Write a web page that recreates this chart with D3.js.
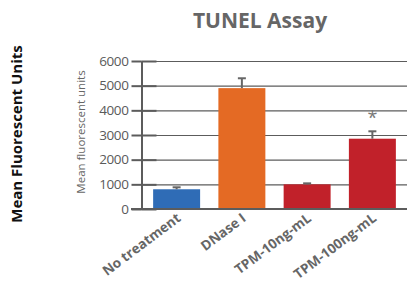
<!DOCTYPE html>
<html>
<head>
<meta charset="utf-8">
<script src="https://cdn.jsdelivr.net/npm/d3@7"></script>
<style>
  body { margin: 0; background: #fff; }
  svg { display: block; font-family: "Open Sans", sans-serif; }
</style>
</head>
<body>
<svg width="407" height="287"></svg>
<script>
var categories = ["No treatment", "DNase I", "TPM-10ng-mL", "TPM-100ng-mL"];
var means = [800, 4900, 1000, 2850];
var errors = [80, 400, 40, 300];
var barColors = ["#2f6cb6", "#e46a24", "#c1212a", "#c1212a"];
var tickValues = [0, 1000, 2000, 3000, 4000, 5000, 6000];
var starred = ["TPM-100ng-mL"];

var svg = d3.select('svg');

var axisX = 141.5;
var scaleX = d3.scaleBand().domain(categories).range([144, 405]).paddingInner(0.28).paddingOuter(0.14);
var scaleY = d3.scaleLinear().domain([0, 6000]).range([209, 61]);

// grid lines to the right edge
svg.append('g')
  .attr('transform', 'translate(' + axisX + ',0)')
  .call(d3.axisRight(scaleY).tickValues(tickValues).tickSize(407 - axisX).tickFormat(''))
  .call(function(g){
    g.select('.domain').remove();
    g.selectAll('line').attr('stroke', '#5c5c5c').attr('stroke-width', 1.1);
  });

// short inner ticks
svg.append('g')
  .attr('transform', 'translate(' + axisX + ',0)')
  .call(d3.axisRight(scaleY).tickValues(tickValues).tickSize(15).tickFormat(''))
  .call(function(g){
    g.select('.domain').remove();
    g.selectAll('line').attr('stroke', '#5c5c5c').attr('stroke-width', 2);
  });

// left axis with labels
svg.append('g')
  .attr('transform', 'translate(' + axisX + ',0)')
  .call(d3.axisLeft(scaleY).tickValues(tickValues).tickSize(10).tickSizeOuter(0).tickPadding(3).tickFormat(d3.format('d')))
  .call(function(g){
    g.select('.domain').attr('stroke', '#5c5c5c').attr('stroke-width', 2);
    g.selectAll('line').attr('stroke', '#5c5c5c').attr('stroke-width', 2);
    g.selectAll('text').attr('fill', '#5a5a5a').attr('font-size', 13.5)
      .attr('font-family', '"Open Sans", sans-serif').attr('letter-spacing', -0.4);
  });

// baseline
svg.append('line')
  .attr('x1', 131).attr('x2', 407)
  .attr('y1', scaleY(0)).attr('y2', scaleY(0))
  .attr('stroke', '#5c5c5c').attr('stroke-width', 2);

// bars
svg.selectAll('.bar')
  .data(categories)
  .enter()
  .append('rect')
  .attr('class', 'bar')
  .attr('x', function(d){ return scaleX(d); })
  .attr('width', scaleX.bandwidth())
  .attr('y', function(d, i){ return scaleY(means[i]); })
  .attr('height', function(d, i){ return scaleY(0) - scaleY(means[i]) - 1; })
  .attr('fill', function(d, i){ return barColors[i]; });

// error bars
var err = svg.selectAll('.err')
  .data(categories)
  .enter()
  .append('g')
  .attr('class', 'err')
  .attr('stroke', '#666')
  .attr('stroke-width', 2);

err.append('line')
  .attr('x1', function(d){ return scaleX(d) + scaleX.bandwidth() / 2; })
  .attr('x2', function(d){ return scaleX(d) + scaleX.bandwidth() / 2; })
  .attr('y1', function(d, i){ return scaleY(means[i]); })
  .attr('y2', function(d, i){ return scaleY(means[i] + errors[i]); });

err.append('line')
  .attr('x1', function(d){ return scaleX(d) + scaleX.bandwidth() / 2 - 4; })
  .attr('x2', function(d){ return scaleX(d) + scaleX.bandwidth() / 2 + 4; })
  .attr('y1', function(d, i){ return scaleY(means[i] + errors[i]); })
  .attr('y2', function(d, i){ return scaleY(means[i] + errors[i]); });

// significance star
svg.selectAll('.star')
  .data(starred)
  .enter()
  .append('text')
  .attr('class', 'star')
  .attr('x', function(d){ return scaleX(d) + scaleX.bandwidth() / 2; })
  .attr('y', function(d){ var i = categories.indexOf(d); return scaleY(means[i] + errors[i]) - 7; })
  .attr('text-anchor', 'middle')
  .attr('font-size', 18)
  .attr('fill', '#777')
  .text('*');

// category labels
svg.selectAll('.xlab')
  .data(categories)
  .enter()
  .append('text')
  .attr('class', 'xlab')
  .attr('transform', function(d){
    return 'translate(' + (scaleX(d) + scaleX.bandwidth() / 2 + 5) + ',220) rotate(-37)';
  })
  .attr('text-anchor', 'end')
  .attr('font-size', 13.6)
  .attr('font-weight', 'bold')
  .attr('fill', '#666')
  .text(function(d){ return d; });

// title
svg.append('text')
  .attr('x', 260).attr('y', 28)
  .attr('text-anchor', 'middle')
  .attr('font-size', 21)
  .attr('font-weight', 'bold')
  .attr('fill', '#666')
  .text('TUNEL Assay');

// inner y label
svg.append('text')
  .attr('transform', 'translate(85,132) rotate(-90)')
  .attr('text-anchor', 'middle')
  .attr('font-size', 11.5)
  .attr('fill', '#666')
  .text('Mean fluorescent units');

// outer y label
svg.append('text')
  .attr('transform', 'translate(22,134) rotate(-90)')
  .attr('text-anchor', 'middle')
  .attr('font-size', 15)
  .attr('font-weight', 'bold')
  .attr('fill', '#111')
  .text('Mean Fluorescent Units');
</script>
</body>
</html>
